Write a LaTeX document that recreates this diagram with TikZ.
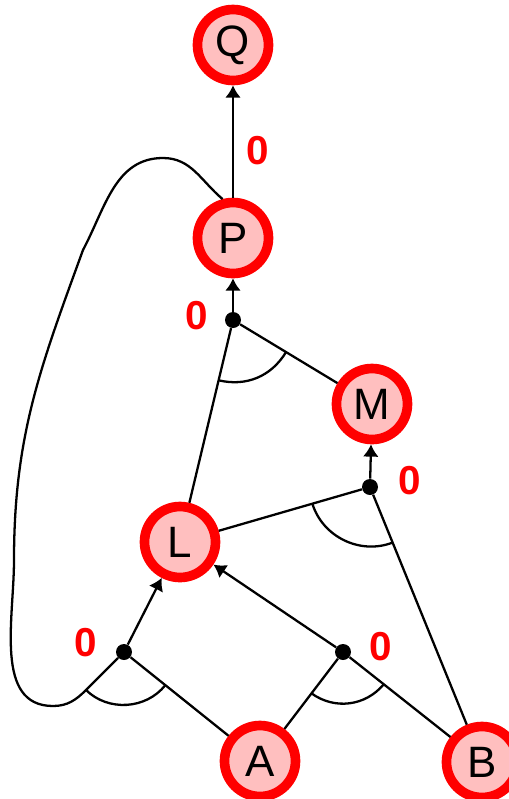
\documentclass[tikz,border=0pt]{standalone}
\usepackage{fontspec}
\setmainfont{Liberation Sans}
\usetikzlibrary{arrows.meta,calc}
\definecolor{propRed}{RGB}{255,0,0}
\definecolor{propPink}{RGB}{255,191,191}
\tikzset{
  prop/.style={circle, draw=propRed, fill=propPink, line width=5.5pt,
    minimum size=1.42cm, inner sep=0pt, font=\fontsize{25}{25}\selectfont},
  junc/.style={circle, fill=black, inner sep=0pt, minimum size=0.32cm},
  wire/.style={draw=black, line width=1.3pt},
  feed/.style={wire, -{Latex[length=7pt,width=9pt]}},
  zero/.style={text=propRed, font=\fontsize{23}{23}\selectfont\bfseries},
}

\begin{document}
\begin{tikzpicture}[x=0.02cm, y=-0.02cm]
  \useasboundingbox (0,0) rectangle (508,799);
  % propositions
  \node[prop] (Q) at (233,45) {Q};
  \node[prop] (P) at (233,238) {P};
  \node[prop] (M) at (372,404) {M};
  \node[prop] (L) at (180,542) {L};
  \node[prop] (A) at (260,761) {A};
  \node[prop] (B) at (482,762) {B};
  % and-junctions
  \node[junc] (JP) at (233,320) {};
  \node[junc] (JM) at (370,487) {};
  \node[junc] (JL) at (124,652) {};
  \node[junc] (JK) at (343,652) {};
  \coordinate (loopend) at (86,690);
  % junction -> conclusion
  \draw[feed] (P) -- (Q);
  \draw[feed] (JP) -- (P);
  \draw[feed] (JM) -- (M);
  \draw[feed] (JL) -- (L);
  \draw[feed] (JK) -- (L);
  % premises into the junctions
  \draw[wire] (JP) -- (L);
  \draw[wire] (JP) -- (M);
  \draw[wire] (JM) -- (L);
  \draw[wire] (JM) -- (B);
  \draw[wire] (JL) -- (A);
  \draw[wire] (JK) -- (A);
  \draw[wire] (JK) -- (B);
  \draw[wire] (P.105) to[out=140,in=0] (163,158) to[out=180,in=62] (83,250)
    to[out=250,in=90] (14,560) to[out=270,in=180] (53,706)
    to[out=0,in=225] (loopend) -- (JL);
  % and-arcs
  \draw[wire] ($(JP)!1.24cm!(L)$) to[bend right=36] ($(JP)!1.24cm!(M)$);
  \draw[wire] ($(JM)!1.2cm!(L)$) to[bend right=47] ($(JM)!1.2cm!(B)$);
  \draw[wire] (loopend) to[bend right=48] ($(JL)!1.06cm!(A)$);
  \draw[wire] ($(JK)!1.04cm!(A)$) to[bend right=43] ($(JK)!1.04cm!(B)$);
  % weights
  \node[zero] (wPQ) at (258,151) {0};
  \node[zero] (wP) at (197,316) {0};
  \node[zero] (wM) at (410,481) {0};
  \node[zero] (wL) at (86,643) {0};
  \node[zero] (wK) at (381,647) {0};
\end{tikzpicture}
\end{document}
